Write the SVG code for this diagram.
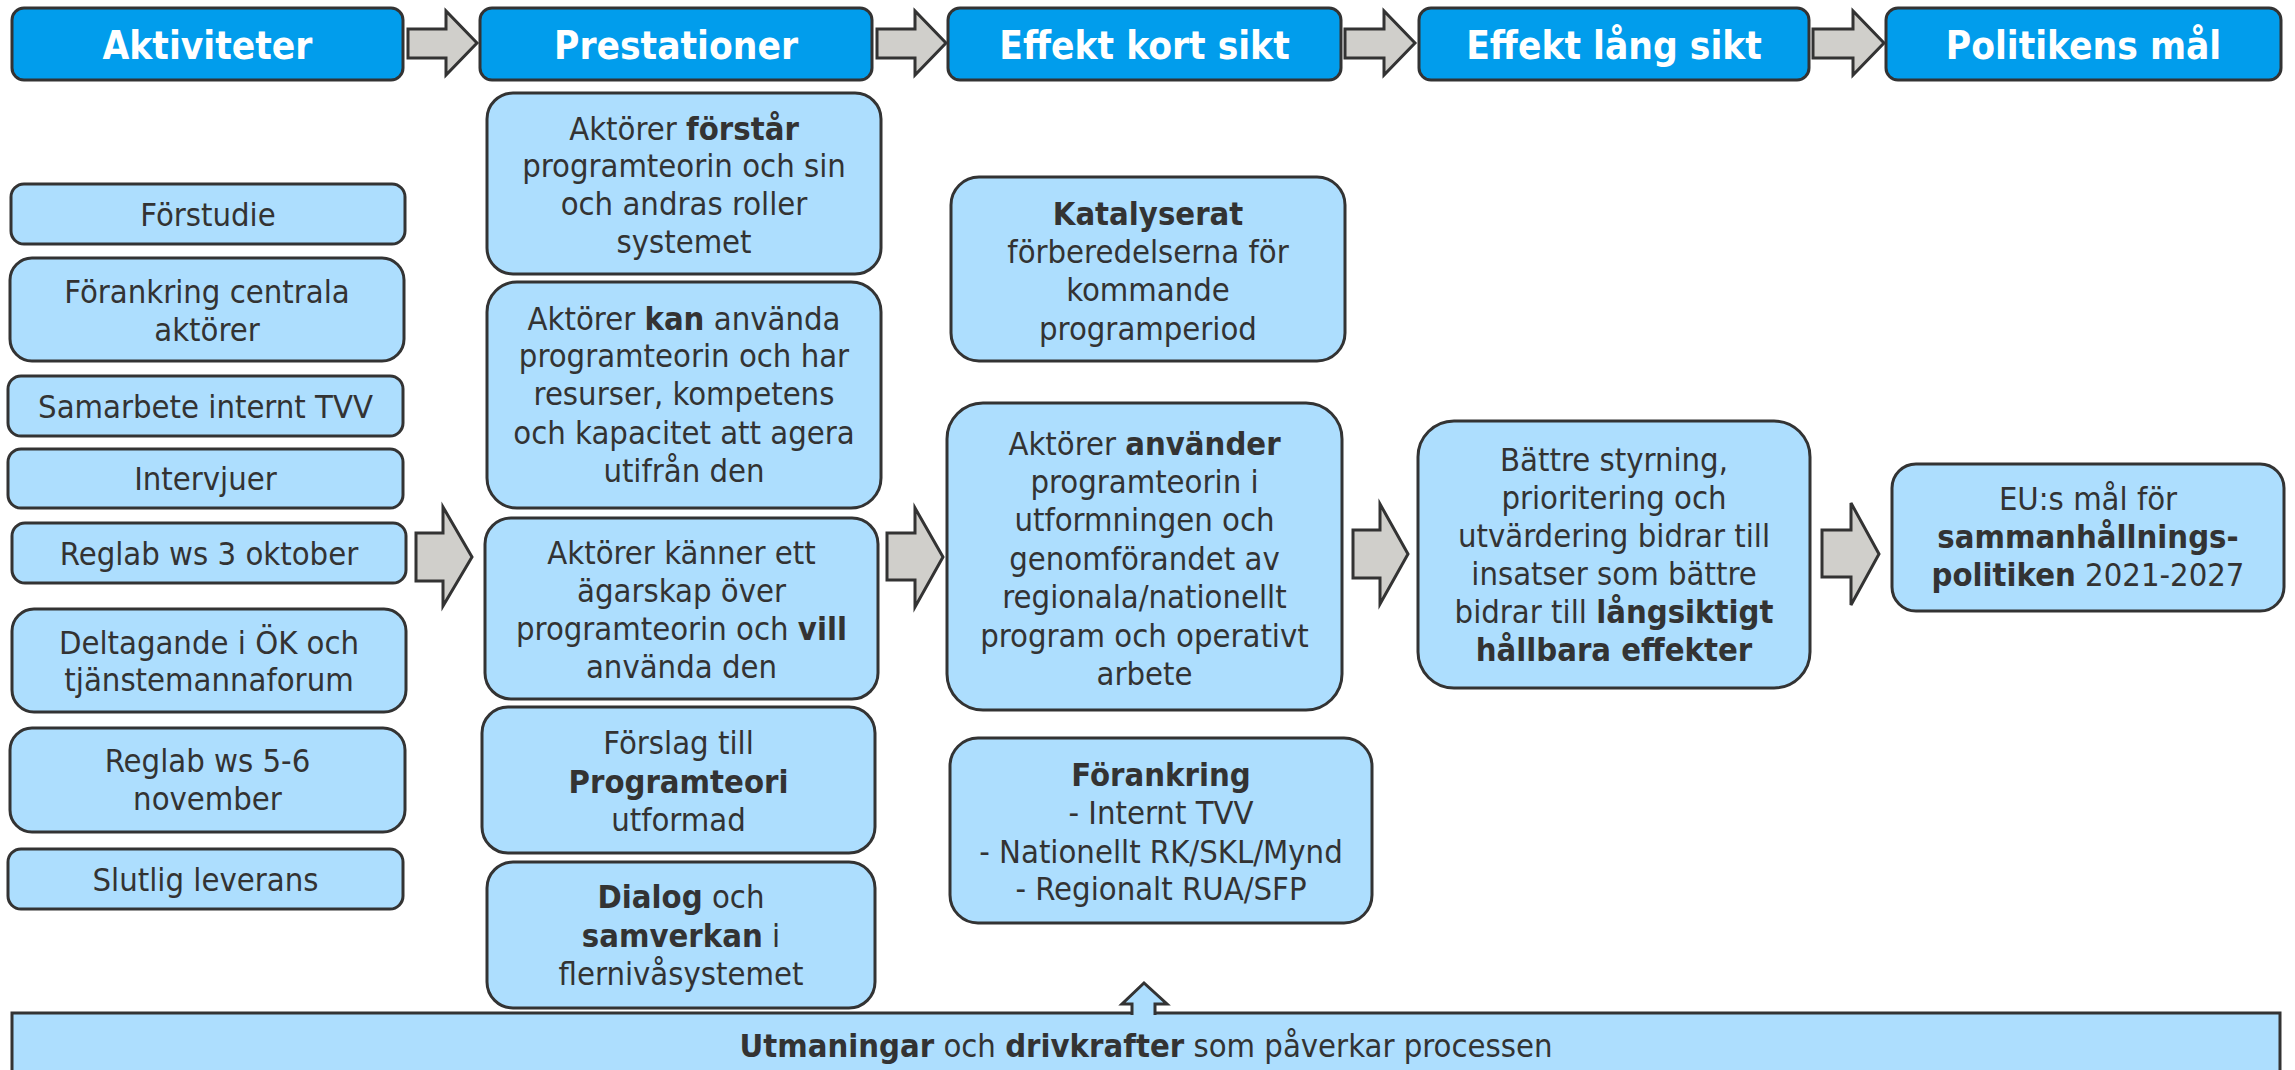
<svg xmlns="http://www.w3.org/2000/svg" width="2295" height="1070" viewBox="0 0 2295 1070">
<style>
text{font-family:"DejaVu Sans Condensed","DejaVu Sans",sans-serif;font-stretch:condensed;text-anchor:middle}
.hdr rect{fill:#019DEC;stroke:#333;stroke-width:3}
.hdr text{font-size:38.5px;font-weight:bold;fill:#fff}
.box rect{fill:#ADDEFE;stroke:#333;stroke-width:3}
.box text{font-size:32.5px;fill:#333}
.b{font-weight:bold}
.arr{fill:#D0CFCB;stroke:#333;stroke-width:3;stroke-linejoin:miter}
.up{fill:#ADDEFE;stroke:#333;stroke-width:3}
</style>
<rect width="2295" height="1070" fill="#fff"/>

<!-- headers -->
<g id="h-aktiviteter" class="hdr"><rect x="12" y="8" width="391" height="72" rx="12"/><text x="207.5" y="58.5">Aktiviteter</text></g>
<g id="h-prestationer" class="hdr"><rect x="480" y="8" width="392" height="72" rx="12"/><text x="676" y="58.5">Prestationer</text></g>
<g id="h-kort" class="hdr"><rect x="948" y="8" width="393" height="72" rx="12"/><text x="1144.5" y="58.5">Effekt kort sikt</text></g>
<g id="h-lang" class="hdr"><rect x="1419" y="8" width="390" height="72" rx="12"/><text x="1614" y="58.5">Effekt lång sikt</text></g>
<g id="h-mal" class="hdr"><rect x="1886" y="8" width="395" height="72" rx="12"/><text x="2083.5" y="58.5">Politikens mål</text></g>

<!-- Aktiviteter -->
<g id="a-forstudie" class="box"><rect x="11" y="184" width="394" height="60" rx="13"/><text x="208" y="226">Förstudie</text></g>
<g id="a-forankring" class="box"><rect x="10" y="258" width="394" height="103" rx="22"/><text x="207" y="303">Förankring centrala</text><text x="207" y="340.5">aktörer</text></g>
<g id="a-samarbete" class="box"><rect x="8" y="376" width="395" height="60" rx="13"/><text x="205.5" y="417.5">Samarbete internt TVV</text></g>
<g id="a-intervjuer" class="box"><rect x="8" y="449" width="395" height="59" rx="13"/><text x="205.5" y="490">Intervjuer</text></g>
<g id="a-reglab1" class="box"><rect x="12" y="523" width="394" height="60" rx="13"/><text x="209" y="564.5">Reglab ws 3 oktober</text></g>
<g id="a-deltagande" class="box"><rect x="12" y="609" width="394" height="103" rx="22"/><text x="209" y="653.5">Deltagande i ÖK och</text><text x="209" y="691">tjänstemannaforum</text></g>
<g id="a-reglab2" class="box"><rect x="10" y="728" width="395" height="104" rx="22"/><text x="207.5" y="772">Reglab ws 5-6</text><text x="207.5" y="810">november</text></g>
<g id="a-slutlig" class="box"><rect x="8" y="849" width="395" height="60" rx="13"/><text x="205.5" y="891">Slutlig leverans</text></g>

<!-- Prestationer -->
<g id="p-forstar" class="box"><rect x="487" y="93" width="394" height="181" rx="26"/>
<text x="684" y="139.5">Aktörer <tspan class="b">förstår</tspan></text><text x="684" y="177">programteorin och sin</text><text x="684" y="215">och andras roller</text><text x="684" y="253">systemet</text></g>
<g id="p-kan" class="box"><rect x="487" y="282" width="394" height="226" rx="30"/>
<text x="684" y="329.5">Aktörer <tspan class="b">kan</tspan> använda</text><text x="684" y="367">programteorin och har</text><text x="684" y="405">resurser, kompetens</text><text x="684" y="443.5">och kapacitet att agera</text><text x="684" y="482">utifrån den</text></g>
<g id="p-vill" class="box"><rect x="485" y="518" width="393" height="181" rx="26"/>
<text x="681.5" y="563.5">Aktörer känner ett</text><text x="681.5" y="601.5">ägarskap över</text><text x="681.5" y="640">programteorin och <tspan class="b">vill</tspan></text><text x="681.5" y="678">använda den</text></g>
<g id="p-forslag" class="box"><rect x="482" y="707" width="393" height="146" rx="26"/>
<text x="678.5" y="754">Förslag till</text><text x="678.5" y="792.5" class="b">Programteori</text><text x="678.5" y="831">utformad</text></g>
<g id="p-dialog" class="box"><rect x="487" y="862" width="388" height="146" rx="26"/>
<text x="681" y="908"><tspan class="b">Dialog</tspan> och</text><text x="681" y="946.5"><tspan class="b">samverkan</tspan> i</text><text x="681" y="985">flernivåsystemet</text></g>

<!-- Effekt kort sikt -->
<g id="k-katalyserat" class="box"><rect x="951" y="177" width="394" height="184" rx="28"/>
<text x="1148" y="225" class="b">Katalyserat</text><text x="1148" y="263">förberedelserna för</text><text x="1148" y="301">kommande</text><text x="1148" y="339.5">programperiod</text></g>
<g id="k-anvander" class="box"><rect x="947" y="403" width="395" height="307" rx="36"/>
<text x="1144.5" y="454.5">Aktörer <tspan class="b">använder</tspan></text><text x="1144.5" y="492.5">programteorin i</text><text x="1144.5" y="531">utformningen och</text><text x="1144.5" y="569.5">genomförandet av</text><text x="1144.5" y="608">regionala/nationellt</text><text x="1144.5" y="646.5">program och operativt</text><text x="1144.5" y="684.5">arbete</text></g>
<g id="k-forankring" class="box"><rect x="950" y="738" width="422" height="185" rx="28"/>
<text x="1161" y="786" class="b">Förankring</text><text x="1161" y="824">- Internt TVV</text><text x="1161" y="862.5">- Nationellt RK/SKL/Mynd</text><text x="1161" y="900">- Regionalt RUA/SFP</text></g>

<!-- Effekt lång sikt -->
<g id="l-battre" class="box"><rect x="1418" y="421" width="392" height="267" rx="36"/>
<text x="1614" y="470.5">Bättre styrning,</text><text x="1614" y="508.5">prioritering och</text><text x="1614" y="546.5">utvärdering bidrar till</text><text x="1614" y="585">insatser som bättre</text><text x="1614" y="623">bidrar till <tspan class="b">långsiktigt</tspan></text><text x="1614" y="661" class="b">hållbara effekter</text></g>

<!-- Politikens mål -->
<g id="m-eu" class="box"><rect x="1892" y="464" width="392" height="147" rx="24"/>
<text x="2088" y="510">EU:s mål för</text><text x="2088" y="548" class="b">sammanhållnings-</text><text x="2088" y="586"><tspan class="b">politiken</tspan> 2021-2027</text></g>

<!-- bottom bar -->
<g id="utmaningar" class="box"><rect x="12" y="1013" width="2268" height="90" rx="0"/>
<text x="1146" y="1057"><tspan class="b">Utmaningar</tspan> och <tspan class="b">drivkrafter</tspan> som påverkar processen</text></g>

<!-- connectors -->
<g id="connectors">
<polygon class="arr" points="408,29 446,29 446,11 477,43 446,75 446,58 408,58"/>
<polygon class="arr" points="877,29 915,29 915,11 946,43 915,75 915,58 877,58"/>
<polygon class="arr" points="1345,29 1384,29 1384,11 1415,43 1384,75 1384,58 1345,58"/>
<polygon class="arr" points="1813,29 1853,29 1853,11 1884,43 1853,75 1853,58 1813,58"/>
<polygon class="arr" points="416,533 443,533 443,507 472,557 443,606 443,581 416,581"/>
<polygon class="arr" points="887,533 915,533 915,508 943,557 915,607 915,580 887,580"/>
<polygon class="arr" points="1353,530 1380,530 1380,504 1408,554 1380,604 1380,578 1353,578"/>
<polygon class="arr" points="1822,530 1851,530 1851,503 1879,554 1851,605 1851,577 1822,577"/>
<path class="up" d="M1132,1015 L1132,1004 L1122,1004 L1144,983 L1167,1004 L1155,1004 L1155,1015"/>
</g>
</svg>
